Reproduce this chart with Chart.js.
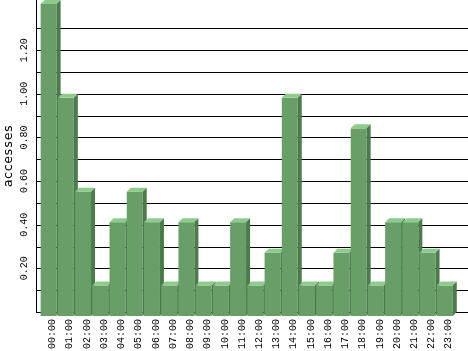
<!DOCTYPE html>
<html>
<head>
<meta charset="utf-8">
<script src="https://cdn.jsdelivr.net/npm/chart.js@4/dist/chart.umd.min.js"></script>
<style>
  body { margin: 0; background: #fff; }
</style>
</head>
<body>
<canvas id="chart" width="468" height="351"></canvas>
<script>
const hours = ['00:00', '01:00', '02:00', '03:00', '04:00', '05:00', '06:00', '07:00',
               '08:00', '09:00', '10:00', '11:00', '12:00', '13:00', '14:00', '15:00',
               '16:00', '17:00', '18:00', '19:00', '20:00', '21:00', '22:00', '23:00'];
const accesses = [1.43, 1.00, 0.57, 0.14, 0.43, 0.57, 0.43, 0.14,
                  0.43, 0.14, 0.14, 0.43, 0.14, 0.29, 1.00, 0.14,
                  0.14, 0.29, 0.86, 0.14, 0.43, 0.43, 0.29, 0.14];
const yTickLabels = ['0.20', '0.40', '0.60', '0.80', '1.00', '1.20'];

const frontColor = '#699e69';
const topColor = '#8dcc8d';
const sideColor = '#4b7a4b';
const depth = 4;

// grid, axis line, rotated y labels and the 3d boxes
const boxes3d = {
    id: 'boxes3d',
    beforeDatasetsDraw(chart) {
        const ctx = chart.ctx;
        const area = chart.chartArea;
        const y = chart.scales.y;
        const axisX = area.left - 8;
        const zeroY = y.getPixelForValue(0);

        ctx.save();
        ctx.strokeStyle = '#000';
        ctx.lineWidth = 1;
        ctx.beginPath();
        for (const t of y.ticks) {
            const v = t.value * 10;
            if (Math.abs(v - Math.round(v)) > 1e-6) continue;
            const py = Math.round(y.getPixelForValue(t.value)) + 0.5;
            ctx.moveTo(axisX, py);
            ctx.lineTo(chart.width, py);
        }
        ctx.moveTo(axisX + 0.5, area.top);
        ctx.lineTo(axisX + 0.5, Math.round(zeroY) + 1);
        ctx.stroke();

        ctx.fillStyle = '#000';
        ctx.font = '10px "Liberation Mono"';
        ctx.textAlign = 'center';
        ctx.textBaseline = 'middle';
        for (const lbl of yTickLabels) {
            const py = y.getPixelForValue(parseFloat(lbl));
            ctx.save();
            ctx.translate(axisX - 12, py);
            ctx.rotate(-Math.PI / 2);
            ctx.fillText(lbl, 0, 0);
            ctx.restore();
        }
        ctx.restore();
    },
    afterDatasetsDraw(chart) {
        const ctx = chart.ctx;
        const base = chart.scales.y.getPixelForValue(0);
        const meta = chart.getDatasetMeta(0);

        ctx.save();
        for (const bar of meta.data) {
            const w = bar.width;
            const bx = bar.x - w / 2;
            const by = bar.y;
            const fx = bx - depth;
            const fy = by + depth;
            const fb = base + depth;

            ctx.fillStyle = frontColor;
            ctx.fillRect(fx, fy, w, fb - fy);

            ctx.fillStyle = topColor;
            ctx.beginPath();
            ctx.moveTo(fx, fy);
            ctx.lineTo(bx, by);
            ctx.lineTo(bx + w, by);
            ctx.lineTo(fx + w, fy);
            ctx.closePath();
            ctx.fill();

            ctx.fillStyle = sideColor;
            ctx.beginPath();
            ctx.moveTo(fx + w, fy);
            ctx.lineTo(bx + w, by);
            ctx.lineTo(bx + w, base);
            ctx.lineTo(fx + w, fb);
            ctx.closePath();
            ctx.fill();
        }
        ctx.restore();
    }
};

new Chart(document.getElementById('chart'), {
    type: 'bar',
    data: {
        labels: hours,
        datasets: [{
            data: accesses,
            backgroundColor: 'transparent',
            borderWidth: 0,
            categoryPercentage: 1,
            barPercentage: 0.926
        }]
    },
    options: {
        responsive: false,
        animation: false,
        layout: { padding: { top: 0, left: 0, right: 9.5, bottom: 0 } },
        plugins: { legend: { display: false }, tooltip: { enabled: false } },
        scales: {
            x: {
                grid: { display: false, drawTicks: false },
                border: { display: false },
                ticks: {
                    autoSkip: false,
                    minRotation: 90,
                    maxRotation: 90,
                    padding: 7,
                    color: '#000',
                    font: { family: 'Liberation Mono', size: 10 }
                },
                afterFit(scale) { scale.height = 39; }
            },
            y: {
                min: 0,
                max: 1.43,
                grid: { display: false, drawTicks: false },
                border: { display: false },
                ticks: { display: false, stepSize: 0.1 },
                title: {
                    display: true,
                    text: 'accesses',
                    color: '#000',
                    padding: { top: 1, bottom: 0 },
                    font: { family: 'DejaVu Sans Mono', size: 13 }
                },
                afterFit(scale) { scale.width = 44; }
            }
        }
    },
    plugins: [boxes3d]
});
</script>
</body>
</html>
